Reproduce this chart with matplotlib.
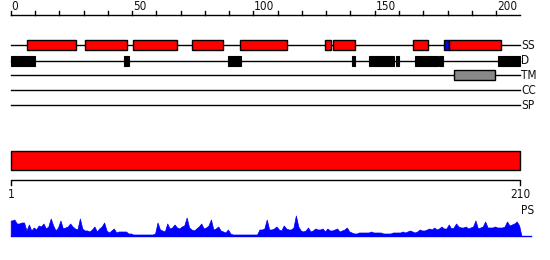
import numpy as np
import matplotlib.pyplot as plt
from matplotlib.patches import Rectangle

seq_len = 210

# secondary structure segments (start, end, colour)
ss_segs = [(6.8, 26.8, 'red'), (30.7, 47.8, 'red'), (50.5, 68.6, 'red'),
           (74.8, 87.6, 'red'), (94.6, 113.8, 'red'), (129.6, 131.9, 'red'),
           (132.9, 141.7, 'red'), (165.9, 171.8, 'red'), (178.7, 180.7, 'blue'),
           (180.7, 201.9, 'red')]
# disorder segments
d_segs = [(0, 10), (46.7, 48.8), (89.5, 94.8), (140.6, 141.9), (147.8, 157.8),
          (158.7, 160.0), (166.5, 175.9), (176.5, 178.0), (200.8, 210)]
# transmembrane
tm_segs = [(182.8, 199.7)]
track_names = ['SS', 'D', 'TM', 'CC', 'SP']

# per-residue PS profile (pixel heights above baseline)
ps_vals = [15, 16, 12, 12, 13, 13, 5, 11, 5, 8,
           6, 10, 9, 12, 7, 9, 17, 10, 5, 8,
           15, 7, 8, 9, 12, 9, 7, 6, 17, 7,
           5, 5, 4, 6, 9, 4, 7, 9, 13, 5,
           3, 5, 7, 3, 4, 4, 4, 4, 2, 2,
           1, 1, 1, 1, 1, 1, 1, 1, 1, 2,
           13, 6, 5, 4, 12, 7, 8, 11, 8, 7,
           9, 10, 18, 8, 6, 5, 7, 9, 12, 7,
           8, 10, 16, 6, 7, 9, 5, 4, 3, 6,
           2, 1, 1, 1, 1, 1, 1, 1, 1, 1,
           1, 1, 6, 6, 7, 16, 6, 6, 7, 9,
           6, 5, 10, 7, 6, 6, 8, 20, 9, 5,
           4, 5, 8, 4, 5, 7, 6, 6, 7, 4,
           7, 5, 5, 6, 7, 4, 5, 6, 8, 4,
           3, 2, 2, 3, 3, 3, 3, 3, 4, 3,
           3, 3, 3, 2, 2, 2, 2, 3, 3, 3,
           3, 4, 3, 4, 5, 4, 3, 4, 6, 5,
           5, 6, 7, 6, 8, 6, 7, 9, 7, 7,
           11, 7, 8, 12, 9, 8, 8, 9, 7, 8,
           9, 15, 7, 8, 9, 14, 8, 8, 8, 9,
           8, 8, 8, 9, 14, 10, 11, 12, 14, 10]

px = 2.427   # pixels per residue
x0 = 10.7

plt.rcParams['font.family'] = 'DejaVu Sans'
plt.rcParams['font.stretch'] = 'condensed'

fig = plt.figure(figsize=(5.5, 2.6), dpi=100)
ax = fig.add_axes([0, 0, 1, 1])
ax.set_xlim(-x0 / px, (550 - x0) / px)
ax.set_ylim(260, 0)
ax.axis('off')

fs = 8.5
tc = '#111111'
# top ruler
ax.plot([0, seq_len], [14.7, 14.7], color='black', lw=1)
for t in range(0, 201, 10):
    ax.plot([t, t], [14.7, 10.5], color='black', lw=1)
for t in range(0, 201, 50):
    ax.text(t + 0.3, 10.3, str(t), ha='left', va='baseline', fontsize=fs, color=tc)

# tracks
track_y = [45.3, 60.7, 75.3, 90.0, 105.3]
for name, y in zip(track_names, track_y):
    ax.plot([0, seq_len], [y, y], color='black', lw=1, zorder=1)
    ax.text(seq_len + 0.3, y, name, ha='left', va='center', fontsize=fs, color=tc)

h = 10
for s, e, c in ss_segs:
    ax.add_patch(Rectangle((s, track_y[0] - h / 2), e - s, h, facecolor=c,
                           edgecolor='black', lw=1, zorder=2))
for s, e in d_segs:
    ax.add_patch(Rectangle((s, track_y[1] - h / 2), e - s, h, facecolor='black',
                           edgecolor='black', lw=0.8, zorder=2))
for s, e in tm_segs:
    ax.add_patch(Rectangle((s, track_y[2] - h / 2), e - s, h, facecolor='#888888',
                           edgecolor='black', lw=1, zorder=2))

# full-length bar
ax.add_patch(Rectangle((0, 150.7), seq_len, 19.6, facecolor='red',
                       edgecolor='black', lw=1, zorder=2))

# lower ruler
ax.plot([0, 0, seq_len, seq_len], [184.5, 180.3, 180.3, 184.5], color='black', lw=1)
ax.text(0.2, 195, '1', ha='center', va='center', fontsize=fs, color=tc)
ax.text(seq_len, 195, '210', ha='center', va='center', fontsize=fs, color=tc)
ax.text(seq_len + 0.3, 211, 'PS', ha='left', va='center', fontsize=fs, color=tc)

# PS profile
base = 235.5
xs = np.concatenate([[0], np.arange(seq_len) + 0.5, [seq_len + 0.4]])
ys = np.concatenate([[ps_vals[0]], ps_vals, [0]])
ax.fill_between(xs, base, base - ys, color='blue', lw=0.5)
ax.plot([0, 214.5], [base, base], color='blue', lw=1)

fig.savefig('out.png', dpi=100)
